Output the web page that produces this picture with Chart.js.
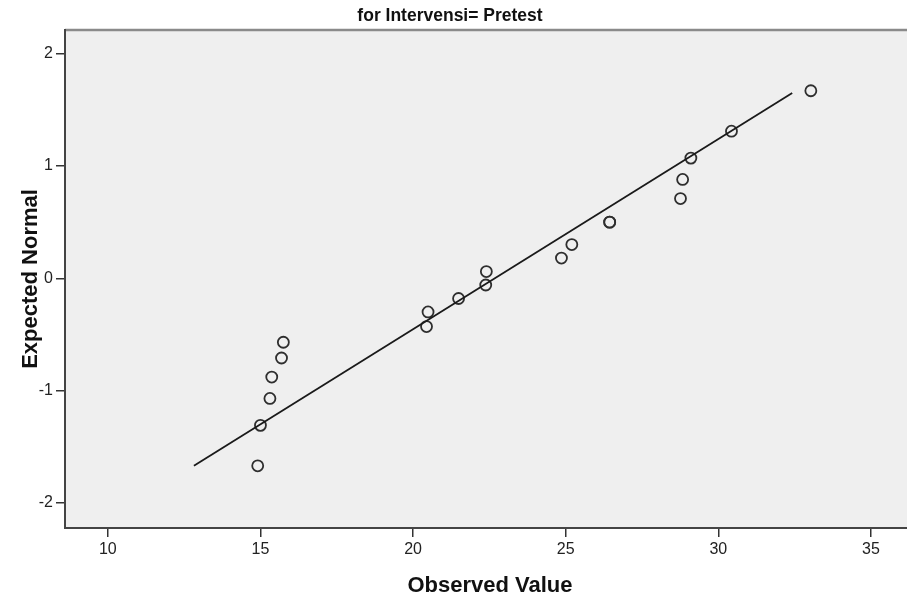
<!DOCTYPE html>
<html>
<head>
<meta charset="utf-8">
<script src="https://cdn.jsdelivr.net/npm/chart.js@4/dist/chart.umd.min.js"></script>
<style>
  html, body { margin: 0; padding: 0; background: #ffffff; overflow: hidden; }
  canvas { display: block; }
</style>
</head>
<body>
<canvas id="qq" width="907" height="598"></canvas>
<script>
// Observed values and their expected normal scores
const observed = [14.91, 15.00, 15.31, 15.37, 15.69, 15.75, 20.44, 20.49, 21.49, 22.38,
                  22.40, 24.86, 25.20, 26.44, 26.44, 28.76, 28.83, 29.10, 30.43, 33.03];
const expected = [-1.67, -1.31, -1.07, -0.88, -0.71, -0.57, -0.43, -0.30, -0.18, -0.06,
                  0.06, 0.18, 0.30, 0.50, 0.50, 0.71, 0.88, 1.07, 1.31, 1.67];

// Reference line end points
const lineX = [12.82, 32.42];
const lineY = [-1.67, 1.65];

// Axis ticks
const xTicks = [10, 15, 20, 25, 30, 35];
const yTicks = [-2, -1, 0, 1, 2];

const chartTitle = 'for Intervensi= Pretest';
const xTitle = 'Observed Value';
const yTitle = 'Expected Normal';

const FONT = '"Liberation Sans", Arial, sans-serif';

const pointData = observed.map((x, i) => ({ x: x, y: expected[i] }));
const lineData = lineX.map((x, i) => ({ x: x, y: lineY[i] }));

const decorations = {
  id: 'decorations',
  beforeDraw(chart) {
    const { ctx, chartArea: a } = chart;
    ctx.save();
    ctx.fillStyle = '#efefef';
    ctx.fillRect(a.left, a.top, chart.width - a.left, a.bottom - a.top);
    ctx.strokeStyle = '#8a8a8a';
    ctx.lineWidth = 2.5;
    ctx.beginPath();
    ctx.moveTo(a.left, a.top);
    ctx.lineTo(chart.width, a.top);
    ctx.stroke();
    ctx.restore();
  },
  afterDraw(chart) {
    const { ctx } = chart;
    ctx.save();
    ctx.fillStyle = '#111111';
    ctx.textAlign = 'center';
    ctx.textBaseline = 'alphabetic';
    ctx.font = 'bold 17.5px ' + FONT;
    ctx.fillText(chartTitle, 450, 21);
    ctx.font = 'bold 22px ' + FONT;
    ctx.fillText(xTitle, 490, 592);
    ctx.translate(37, 279);
    ctx.rotate(-Math.PI / 2);
    ctx.fillText(yTitle, 0, 0);
    ctx.restore();
  }
};

new Chart(document.getElementById('qq'), {
  type: 'scatter',
  data: {
    datasets: [
      {
        type: 'line',
        data: lineData,
        borderColor: '#1a1a1a',
        borderWidth: 1.8,
        pointRadius: 0,
        fill: false,
        tension: 0
      },
      {
        data: pointData,
        pointStyle: 'circle',
        pointRadius: 5.5,
        pointBorderWidth: 1.8,
        borderColor: '#2e2e2e',
        backgroundColor: 'rgba(0,0,0,0)'
      }
    ]
  },
  options: {
    responsive: false,
    animation: false,
    events: [],
    layout: { autoPadding: false, padding: { top: 30, right: 0, left: 0, bottom: 0 } },
    plugins: {
      legend: { display: false },
      tooltip: { enabled: false },
      title: { display: false }
    },
    scales: {
      x: {
        type: 'linear',
        min: 8.597,
        max: 36.18,
        afterBuildTicks(scale) { scale.ticks = xTicks.map(v => ({ value: v })); },
        afterFit(scale) {
          scale.height = 70;
          scale.paddingLeft = 0;
          scale.paddingRight = 0;
        },
        grid: {
          drawOnChartArea: false,
          drawTicks: true,
          tickLength: 9,
          color: '#333333',
          lineWidth: 1.5
        },
        border: { display: true, color: '#444444', width: 2 },
        ticks: {
          color: '#222222',
          padding: 3,
          maxRotation: 0,
          font: { family: FONT, size: 16 }
        }
      },
      y: {
        type: 'linear',
        min: -2.224,
        max: 2.211,
        afterBuildTicks(scale) { scale.ticks = yTicks.map(v => ({ value: v })); },
        afterFit(scale) {
          scale.width = 65;
          scale.paddingTop = 0;
          scale.paddingBottom = 0;
        },
        grid: {
          drawOnChartArea: false,
          drawTicks: true,
          tickLength: 9,
          color: '#333333',
          lineWidth: 1.5
        },
        border: { display: true, color: '#444444', width: 2 },
        ticks: {
          color: '#222222',
          padding: 3,
          font: { family: FONT, size: 16 }
        }
      }
    }
  },
  plugins: [decorations]
});
</script>
</body>
</html>
